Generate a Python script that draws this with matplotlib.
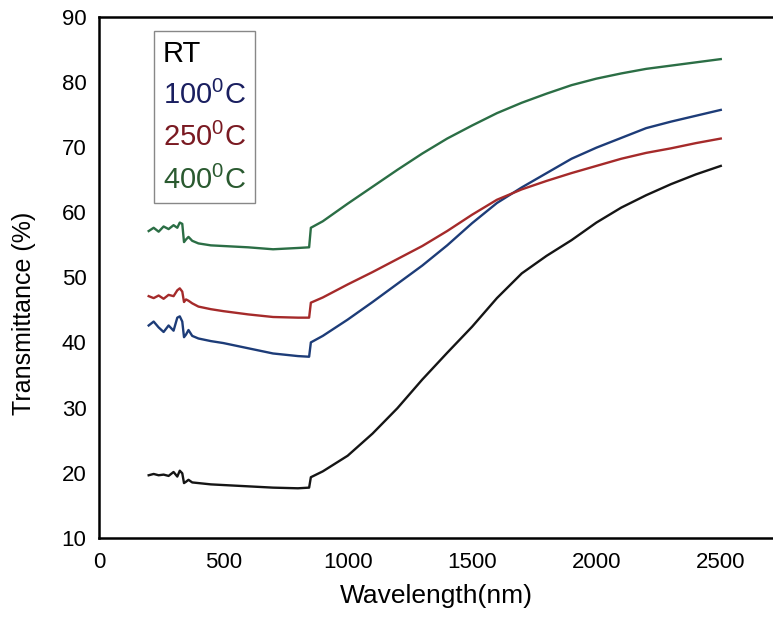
import numpy as np
import matplotlib
matplotlib.use("Agg")
import matplotlib.pyplot as plt

plt.rcParams['font.family'] = ['Liberation Sans', 'DejaVu Sans']
plt.rcParams['mathtext.fontset'] = 'custom'
plt.rcParams['mathtext.rm'] = 'Liberation Sans'

# wavelength grid (nm)
wl = [200, 220, 240, 260, 280, 300, 315, 325, 335, 342, 350, 360, 375, 400,
      450, 500, 600, 700, 800, 845, 852, 900, 1000, 1100, 1200, 1300, 1400,
      1500, 1600, 1700, 1800, 1900, 2000, 2100, 2200, 2300, 2400, 2500]

t_rt = [19.6, 19.8, 19.6, 19.7, 19.5, 20.1, 19.4, 20.3, 19.9, 18.4, 18.6, 18.9, 18.5, 18.4,
        18.2, 18.1, 17.9, 17.7, 17.6, 17.7, 19.3, 20.2, 22.6, 26.0, 29.9, 34.3, 38.4,
        42.4, 46.8, 50.6, 53.3, 55.7, 58.4, 60.7, 62.6, 64.3, 65.8, 67.1]

t_100 = [42.6, 43.2, 42.3, 41.6, 42.6, 41.8, 43.8, 44.0, 43.2, 40.8, 41.2, 41.9, 41.0, 40.6,
         40.2, 39.9, 39.1, 38.3, 37.9, 37.8, 40.0, 41.0, 43.5, 46.2, 49.0, 51.8, 54.9,
         58.3, 61.4, 63.8, 66.0, 68.2, 69.9, 71.4, 72.9, 73.9, 74.8, 75.7]

t_250 = [47.1, 46.8, 47.2, 46.7, 47.3, 47.1, 48.0, 48.3, 47.8, 46.2, 46.6, 46.4, 46.0, 45.5,
         45.1, 44.8, 44.3, 43.9, 43.8, 43.8, 46.1, 46.9, 48.9, 50.8, 52.8, 54.8, 57.1,
         59.6, 61.9, 63.5, 64.8, 66.0, 67.1, 68.2, 69.1, 69.8, 70.6, 71.3]

t_400 = [57.1, 57.6, 57.0, 57.8, 57.4, 58.0, 57.6, 58.4, 58.2, 55.4, 55.8, 56.2, 55.6, 55.2,
         54.9, 54.8, 54.6, 54.3, 54.5, 54.6, 57.6, 58.6, 61.3, 63.9, 66.5, 69.0, 71.3,
         73.3, 75.2, 76.8, 78.2, 79.5, 80.5, 81.3, 82.0, 82.5, 83.0, 83.5]

labels = ['RT', r'100$^\mathrm{0}$C', r'250$^\mathrm{0}$C', r'400$^\mathrm{0}$C']
line_colors = ['#151515', '#1d3c78', '#a52a2a', '#2b6e45']
text_colors = ['#000000', '#1a1f60', '#7a1a22', '#2a5a30']

fig = plt.figure(figsize=(7.73, 6.21), dpi=100)
ax = fig.add_axes([0.128, 0.134, 0.872, 0.839])

for ys, c, lab in zip([t_rt, t_100, t_250, t_400], line_colors, labels):
    ax.plot(wl, ys, color=c, lw=1.7, label=lab)

ax.set_xlim(0, 2710)
ax.set_ylim(10, 90)
ax.set_xticks([0, 500, 1000, 1500, 2000, 2500])
ax.set_yticks(range(10, 91, 10))
ax.tick_params(length=0, labelsize=16)
ax.tick_params(axis='x', pad=10)
ax.tick_params(axis='y', pad=9)
for s in ['left', 'bottom', 'top']:
    ax.spines[s].set_linewidth(1.8)
ax.spines['right'].set_visible(False)

ax.set_xlabel('Wavelength(nm)', fontsize=19, labelpad=8)
ax.set_ylabel('Transmittance (%)', fontsize=18)
ax.yaxis.set_label_coords(-0.094, 0.43)

leg = ax.legend(loc='upper left', bbox_to_anchor=(0.082, 0.973), fontsize=21,
                handlelength=0, handletextpad=0, labelspacing=0.45,
                borderpad=0.3, borderaxespad=0, fancybox=False, framealpha=1)
leg.get_frame().set_edgecolor('#888888')
leg.get_frame().set_linewidth(1.0)
for h in leg.legend_handles:
    h.set_visible(False)
for t, c in zip(leg.get_texts(), text_colors):
    t.set_color(c)

fig.savefig('out.png', dpi=100)
